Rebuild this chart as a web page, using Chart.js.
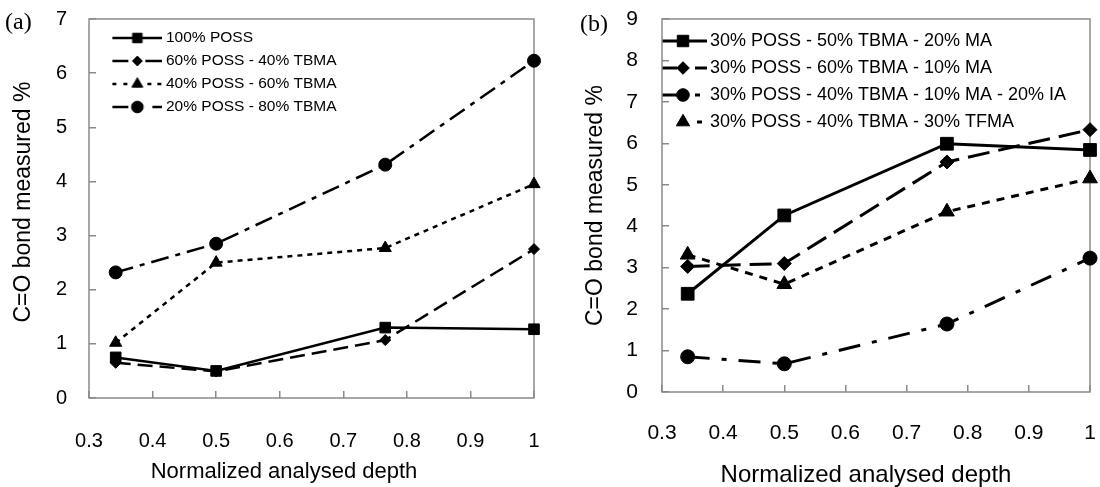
<!DOCTYPE html>
<html><head><meta charset="utf-8">
<script src="https://cdn.jsdelivr.net/npm/chart.js@4/dist/chart.umd.min.js"></script>
<style>
html,body{margin:0;padding:0;background:#fff;overflow:hidden;width:1100px;height:487px}
.wrap{position:absolute;top:0;width:550px;height:487px}
#wa{left:0}#wb{left:550px}
.tag{position:absolute;font-family:"Liberation Serif","Times New Roman",serif;font-size:24px;color:#000;line-height:1}
</style></head><body>
<div class="wrap" id="wa"><canvas id="ca" width="550" height="487" style="width:550px;height:487px"></canvas></div>
<div class="wrap" id="wb"><canvas id="cb" width="550" height="487" style="width:550px;height:487px"></canvas></div>
<div class="tag" style="left:5px;top:9px">(a)</div>
<div class="tag" style="left:580px;top:11px">(b)</div>
<script>
// ---------- data ----------
const depth = [0.342, 0.5, 0.766, 1.0];
const xTicks = [0.3, 0.4, 0.5, 0.6, 0.7, 0.8, 0.9, 1.0];
const xTickLabels = ['0.3', '0.4', '0.5', '0.6', '0.7', '0.8', '0.9', '1'];
const yTicksA = [0, 1, 2, 3, 4, 5, 6, 7];
const yTicksB = [0, 1, 2, 3, 4, 5, 6, 7, 8, 9];
const xTitle = 'Normalized analysed depth';
const yTitle = 'C=O bond measured %';

const labelsA = ['100% POSS', '60% POSS - 40% TBMA', '40% POSS - 60% TBMA', '20% POSS - 80% TBMA'];
const poss100 = [0.75, 0.50, 1.30, 1.27];
const poss60 = [0.65, 0.49, 1.07, 2.75];
const poss40 = [1.02, 2.50, 2.77, 3.95];
const poss20 = [2.32, 2.85, 4.31, 6.23];

const labelsB = ['30% POSS - 50% TBMA - 20% MA', '30% POSS - 60% TBMA - 10% MA', '30% POSS - 40% TBMA - 10% MA - 20% IA', '30% POSS - 40% TBMA - 30% TFMA'];
const ma20 = [2.37, 4.26, 5.99, 5.84];
const ma10 = [3.03, 3.10, 5.55, 6.33];
const ia20 = [0.85, 0.68, 1.64, 3.23];
const tfma30 = [3.31, 2.60, 4.35, 5.15];

// ---------- styles ----------
const FONT = '"Liberation Sans", Arial, Helvetica, sans-serif';
Chart.defaults.font.family = FONT;
Chart.defaults.color = '#000';

const stylesA = [
  {ps: 'rect', r: 7.5, dash: [], w: 2.5, leg: [[20, 70]]},
  {ps: 'rectRot', r: 5.5, dash: [15, 7], w: 2.5, leg: [[20, 36], [53, 70]]},
  {ps: 'triangle', r: 7, dash: [5, 5], w: 2.5, leg: [[20, 24], [31, 35], [55, 59], [65, 69]]},
  {ps: 'circle', r: 6.5, dash: [18, 7, 5, 7], w: 2.5, leg: [[20, 36], [60, 70]]}
];
const stylesB = [
  {ps: 'rect', r: 9, dash: [], w: 3, leg: [[0, 54]]},
  {ps: 'rectRot', r: 7, dash: [22, 9], w: 3, leg: [[0, 24], [42, 54]]},
  {ps: 'circle', r: 7, dash: [22, 12, 5, 12], w: 3, leg: [[0, 24], [42, 47]]},
  {ps: 'triangle', r: 8.5, dash: [8, 7], w: 3, leg: [[0, 5], [44, 49]]}
];

function makeIcon(st, imgW, markX) {
  const c = document.createElement('canvas');
  c.width = imgW; c.height = 22;
  const g = c.getContext('2d');
  g.strokeStyle = '#000'; g.fillStyle = '#000'; g.lineWidth = st.w;
  st.leg.forEach(([a, b]) => { g.beginPath(); g.moveTo(a, 11); g.lineTo(b, 11); g.stroke(); });
  g.lineWidth = 1;
  Chart.helpers.drawPoint(g, {pointStyle: st.ps, radius: st.r * 0.9, rotation: 0, borderWidth: 1}, markX, 11);
  return c;
}

function makeDatasets(labels, series, styles) {
  return series.map((vals, i) => ({
    label: labels[i],
    data: depth.map((x, k) => ({x: x, y: vals[k]})),
    borderColor: '#000', backgroundColor: '#000',
    borderWidth: styles[i].w, borderDash: styles[i].dash,
    pointStyle: styles[i].ps, pointRadius: styles[i].r, pointBorderWidth: 1,
    pointBackgroundColor: '#000', pointBorderColor: '#000',
    tension: 0, fill: false, clip: false
  }));
}

const framePlugin = {
  id: 'frame',
  beforeDatasetsDraw(chart) {
    const {ctx, chartArea: {left, top, right, bottom}} = chart;
    ctx.save(); ctx.strokeStyle = '#8a8a8a'; ctx.lineWidth = 1.5;
    ctx.strokeRect(left, top, right - left, bottom - top); ctx.restore();
  }
};

function zeroPad(s) { s.paddingTop = 0; s.paddingBottom = 0; s.paddingLeft = 0; s.paddingRight = 0; }

function makeChart(id, cfg) {
  const icons = cfg.styles.map(s => makeIcon(s, cfg.imgW, cfg.markX));
  return new Chart(document.getElementById(id), {
    type: 'line',
    data: {datasets: makeDatasets(cfg.labels, cfg.series, cfg.styles)},
    plugins: [framePlugin],
    options: {
      responsive: false, animation: false, devicePixelRatio: 1,
      layout: {padding: {left: 0, right: cfg.padRight, top: 19, bottom: 0}},
      plugins: {
        tooltip: {enabled: false},
        legend: {
          position: 'chartArea', align: 'start', fullSize: false,
          title: {display: true, text: '', font: {size: cfg.legTitle, lineHeight: 1}, padding: 0},
          labels: {
            usePointStyle: true, pointStyleWidth: cfg.boxW, padding: cfg.legPad,
            font: {size: cfg.legFont}, color: '#000',
            generateLabels: (chart) => chart.data.datasets.map((ds, i) => ({
              text: ds.label, pointStyle: icons[i], fillStyle: '#000', strokeStyle: '#000',
              lineWidth: 0, hidden: false, datasetIndex: i, fontColor: '#000'
            }))
          }
        }
      },
      scales: {
        x: {
          type: 'linear', min: 0.3, max: 1,
          afterBuildTicks: s => { s.ticks = xTicks.map(v => ({value: v})); },
          afterFit: s => { s.height = cfg.xH; zeroPad(s); },
          ticks: {callback: (v, i) => xTickLabels[i], font: {size: cfg.tickFont}, color: '#000', padding: cfg.xPad, maxRotation: 0, autoSkip: false},
          grid: {drawOnChartArea: false, drawTicks: true, tickLength: -7, color: '#8a8a8a', lineWidth: 1.5},
          border: {display: false},
          title: {display: true, text: xTitle + ' '.repeat(cfg.xTitleShift), font: {size: cfg.xTitleFont}, color: '#000', padding: {top: 0, bottom: cfg.xTitlePad}}
        },
        y: {
          type: 'linear', min: 0, max: cfg.yTicks[cfg.yTicks.length - 1],
          afterBuildTicks: s => { s.ticks = cfg.yTicks.map(v => ({value: v})); },
          afterFit: s => { s.width = cfg.yW; zeroPad(s); },
          ticks: {callback: (v) => String(v), font: {size: cfg.tickFont}, color: '#000', padding: cfg.yPad},
          grid: {drawOnChartArea: false, drawTicks: true, tickLength: -7, color: '#8a8a8a', lineWidth: 1.5},
          border: {display: false},
          title: {display: true, text: ' '.repeat(cfg.yTitleShift) + yTitle, font: {size: cfg.yTitleFont}, color: '#000', padding: {top: cfg.yTitlePad, bottom: 0}}
        }
      }
    }
  });
}

makeChart('ca', {
  labels: labelsA, series: [poss100, poss60, poss40, poss20], styles: stylesA,
  imgW: 70, markX: 45, boxW: 61.75, legFont: 15.5, legPad: 7.5, legTitle: 22.75,
  padRight: 16, xH: 89, yW: 89, xPad: 38.4, yPad: 29, xTitlePad: 1.8, yTitlePad: 10,
  tickFont: 20, xTitleFont: 22, yTitleFont: 23, xTitleShift: 9, yTitleShift: 2,
  yTicks: yTicksA
});
makeChart('cb', {
  labels: labelsB, series: [ma20, ma10, ia20, tfma30], styles: stylesB,
  imgW: 66, markX: 30, boxW: 30, legFont: 18, legPad: 9, legTitle: 23,
  padRight: -4, xH: 95, yW: 112, xPad: 36, yPad: 31, xTitlePad: -2.4, yTitlePad: 32,
  tickFont: 21, xTitleFont: 24, yTitleFont: 23, xTitleShift: 3, yTitleShift: 0,
  yTicks: yTicksB
});
</script>
</body></html>
